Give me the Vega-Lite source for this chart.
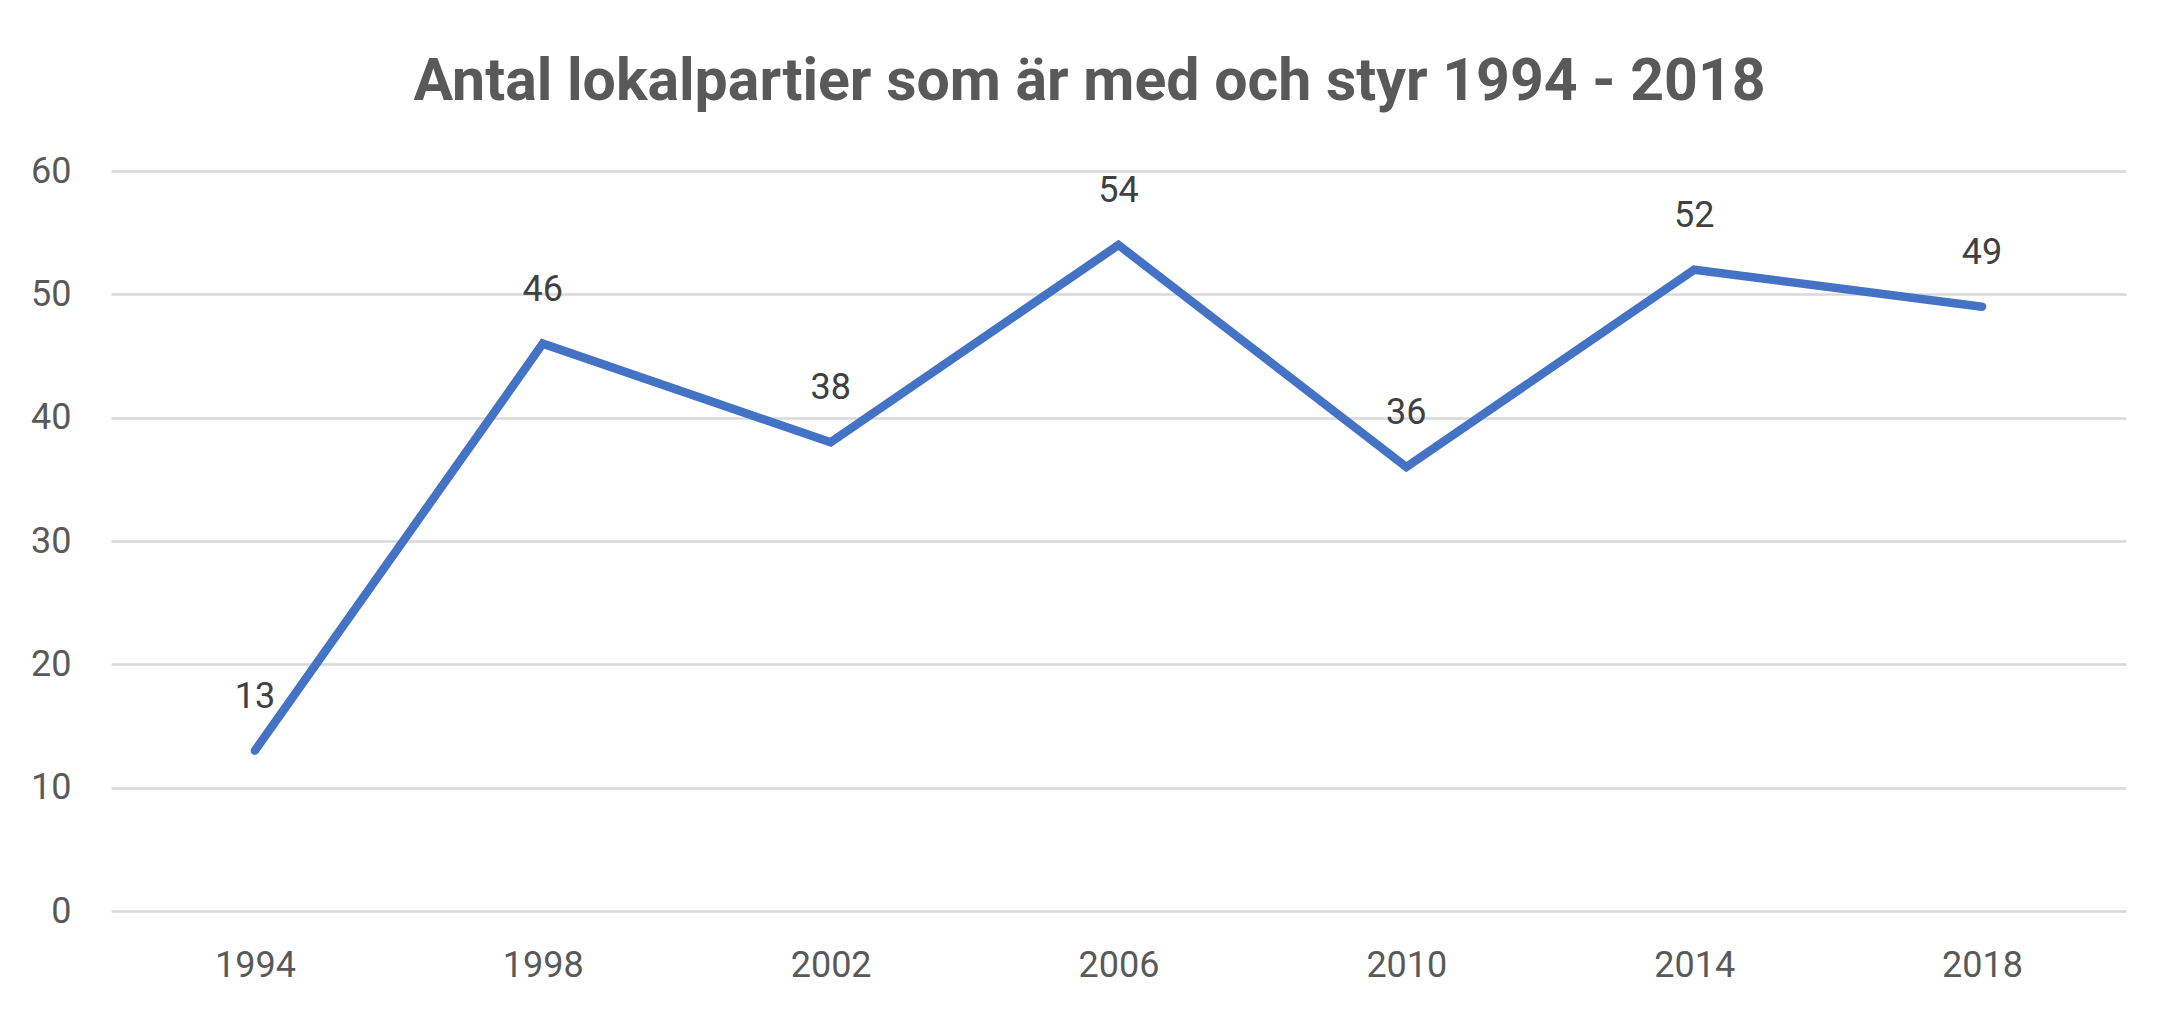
{
  "$schema": "https://vega.github.io/schema/vega-lite/v6.json",
  "width": 2015,
  "height": 740,
  "autosize": {"type": "none"},
  "padding": {"left": 111, "top": 171, "right": 53, "bottom": 108},
  "background": "white",
  "title": {
    "text": "Antal lokalpartier som är med och styr 1994 - 2018",
    "anchor": "middle",
    "dx": -29,
    "offset": -6,
    "baseline": "alphabetic",
    "font": "Roboto, sans-serif",
    "fontSize": 59,
    "fontWeight": "bold",
    "color": "#595959"
  },
  "data": {
    "values": [
      {"year": "1994", "value": 13},
      {"year": "1998", "value": 46},
      {"year": "2002", "value": 38},
      {"year": "2006", "value": 54},
      {"year": "2010", "value": 36},
      {"year": "2014", "value": 52},
      {"year": "2018", "value": 49}
    ]
  },
  "encoding": {
    "x": {
      "field": "year",
      "type": "ordinal",
      "scale": {"type": "point", "padding": 0.5},
      "axis": {
        "title": null,
        "labelAngle": 0,
        "domain": false,
        "ticks": false,
        "grid": false,
        "labelPadding": 37,
        "labelFont": "Roboto, sans-serif",
        "labelFontSize": 36,
        "labelColor": "#595959"
      }
    },
    "y": {
      "field": "value",
      "type": "quantitative",
      "scale": {"domain": [0, 60], "nice": false},
      "axis": {
        "title": null,
        "values": [0, 10, 20, 30, 40, 50, 60],
        "domain": false,
        "ticks": false,
        "grid": true,
        "gridColor": "#d9d9d9",
        "gridWidth": 2.5,
        "labelPadding": 40,
        "labelFont": "Roboto, sans-serif",
        "labelFontSize": 36,
        "labelColor": "#595959"
      }
    }
  },
  "layer": [
    {
      "mark": {"type": "line", "color": "#4472C4", "strokeWidth": 8.5, "strokeJoin": "miter", "strokeCap": "round"}
    },
    {
      "mark": {
        "type": "text",
        "dy": -54,
        "baseline": "middle",
        "align": "center",
        "font": "Roboto, sans-serif",
        "fontSize": 36,
        "color": "#404040"
      },
      "encoding": {"text": {"field": "value", "type": "quantitative"}}
    }
  ],
  "config": {"view": {"stroke": null}}
}
